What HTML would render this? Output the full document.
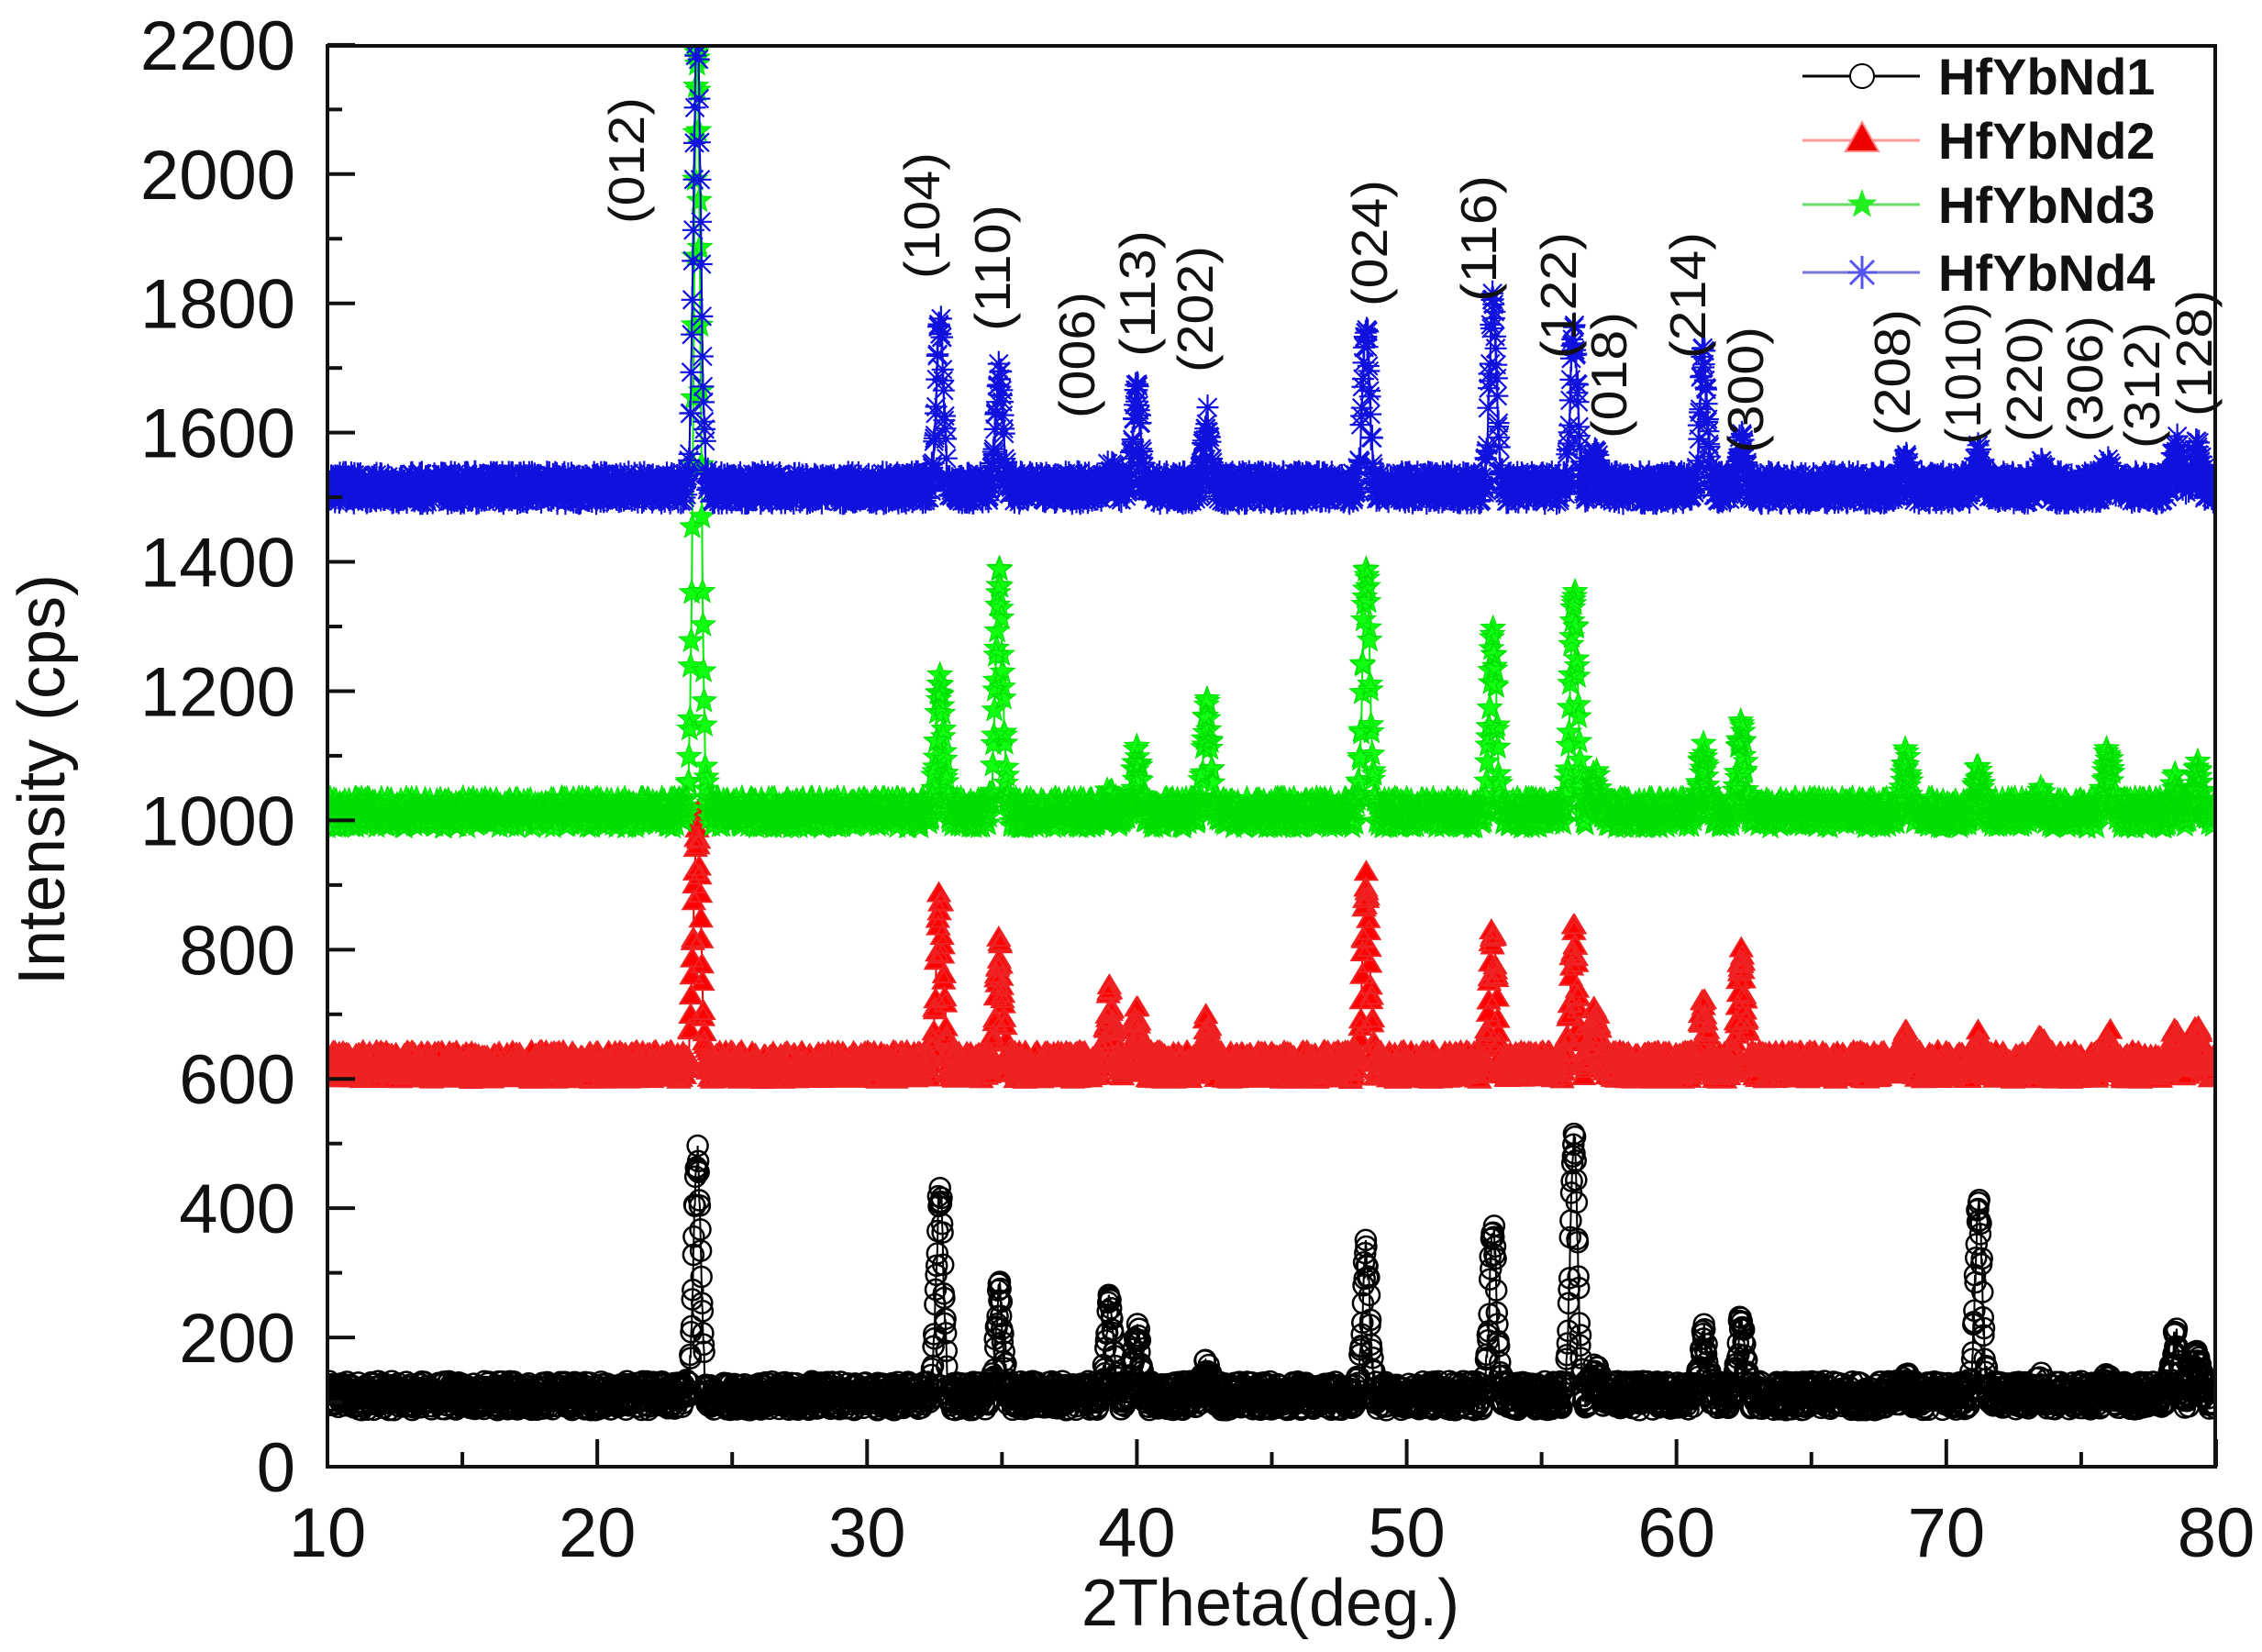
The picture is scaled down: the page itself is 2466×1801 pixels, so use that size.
<!DOCTYPE html>
<html><head><meta charset="utf-8"><style>
html,body{margin:0;padding:0;background:#fff;}
svg{display:block;}
text{font-family:"Liberation Sans",sans-serif;}
</style></head><body>
<svg id="s" width="2466" height="1801" viewBox="0 0 2466 1801" xmlns="http://www.w3.org/2000/svg">
<defs><clipPath id="c"><rect x="357" y="50" width="2058" height="1549"/></clipPath></defs>
<g id="data" clip-path="url(#c)"></g>
<rect x="357" y="50" width="2058" height="1549" fill="none" stroke="#111" stroke-width="4"/>
<g id="ticks" stroke="#111" stroke-width="4"></g>
<g id="labels" font-size="76" fill="#111"></g>
<text x="70" y="850" font-size="72" fill="#111" text-anchor="middle" transform="rotate(-90 70 850)">Intensity (cps)</text>
<text x="1385" y="1772" font-size="72" fill="#111" text-anchor="middle">2Theta(deg.)</text>
<g id="hkl" font-size="55" fill="#111"></g>
<g id="legend"></g>
</svg>
<script>
var NS="http://www.w3.org/2000/svg";
function X(t){return 357+(t-10)*29.414;}
function Y(v){return 1599-v*0.7046;}
function el(tag,attrs,parent,txt){var e=document.createElementNS(NS,tag);for(var k in attrs)e.setAttribute(k,attrs[k]);if(txt!==undefined)e.textContent=txt;parent.appendChild(e);return e;}
var ticks=document.getElementById('ticks'),labels=document.getElementById('labels');
for(var t=10;t<=80;t+=5){var maj=(t%10==0);el('line',{x1:X(t),x2:X(t),y1:1599,y2:1599-(maj?30:16)},ticks);if(maj)el('text',{x:X(t),y:1697,'text-anchor':'middle'},labels,t);}
for(var v=0;v<=2200;v+=100){var maj=(v%200==0);el('line',{x1:357,x2:357+(maj?30:16),y1:Y(v),y2:Y(v)},ticks);if(maj)el('text',{x:322,y:Y(v)+27,'text-anchor':'end'},labels,v);}
var seed=12345;function rnd(){seed=(seed*1103515245+12345)%2147483648;return seed/2147483648;}
var pos=[23.7,32.7,34.9,39.0,40.0,42.6,48.5,53.2,56.2,57.0,61.0,62.4,68.5,71.2,73.5,76.0,78.5,79.3];
var S=[
 {base:110,col:'#000',h:[480,430,270,250,210,150,335,370,510,140,200,225,130,410,125,125,195,175],m:'circle'},
 {base:620,col:'#e00',h:[1000,880,800,730,690,680,900,830,820,700,710,790,660,665,650,660,660,665],m:'tri'},
 {base:1012,col:'#0e0',h:[2180,1210,1370,1030,1100,1170,1390,1280,1350,1060,1100,1140,1090,1070,1030,1100,1050,1070],m:'star'},
 {base:1515,col:'#00c',h:[2250,1770,1690,1540,1660,1620,1760,1800,1760,1560,1720,1580,1550,1560,1540,1550,1580,1570],m:'ast'}
];
var data=document.getElementById('data');
S.forEach(function(s){
 var pts=[],d='';
 for(var t=10;t<=80.001;t+=0.02){
  var v=s.base+(rnd()-0.5)*45;
  for(var i=0;i<pos.length;i++){var A=s.h[i]-s.base;var z=(t-pos[i])/0.13;v+=A*Math.exp(-z*z/2);}
  var x=X(t),y=Y(v);pts.push(x.toFixed(1)+','+y.toFixed(1));
  var r=11;
  if(s.m=='circle'){d+='M'+(x-r).toFixed(1)+' '+y.toFixed(1)+'a'+r+' '+r+' 0 1 0 '+2*r+' 0a'+r+' '+r+' 0 1 0 '+(-2*r)+' 0';}
  else if(s.m=='tri'){d+='M'+x.toFixed(1)+' '+(y-12).toFixed(1)+'l12 20h-24z';}
  else if(s.m=='star'){var q='';for(var k=0;k<10;k++){var a=-Math.PI/2+k*Math.PI/5,rr=(k%2?6:14);q+=(k?'L':'M')+(x+rr*Math.cos(a)).toFixed(1)+' '+(y+rr*Math.sin(a)).toFixed(1);}d+=q+'Z';}
  else{d+='M'+(x-12)+' '+y.toFixed(1)+'h24M'+x.toFixed(1)+' '+(y-14).toFixed(1)+'v28M'+(x-10).toFixed(1)+' '+(y-10).toFixed(1)+'l20 20M'+(x+10).toFixed(1)+' '+(y-10).toFixed(1)+'l-20 20';}
 }
 s.pts=pts;s.d=d;
});
S.forEach(function(s){
 el('polyline',{points:s.pts.join(' '),fill:'none',stroke:s.col,'stroke-width':2},data);
 if(s.m=='circle')el('path',{d:s.d,fill:'none',stroke:'#000','stroke-width':2.5},data);
 else if(s.m=='tri')el('path',{d:s.d,fill:'#f00',stroke:'#e22','stroke-width':2},data);
 else if(s.m=='star')el('path',{d:s.d,fill:'#1f1',stroke:'#0d0','stroke-width':1},data);
 else el('path',{d:s.d,fill:'none',stroke:'#11d','stroke-width':2.2},data);
});
var H=[['(012)',683,175],['(104)',1005,235],['(110)',1082,292],['(006)',1174,387],['(113)',1240,320],['(202)',1303,337],['(024)',1493,265],['(116)',1612,260],['(122)',1699,322],['(018)',1754,409],['(214)',1840,322],['(300)',1903,425],['(208)',2063,406],['(1010)',2140,407],['(220)',2207,413],['(306)',2273,413],['(312)',2335,420],['(128)',2392,385]];
var hkl=document.getElementById('hkl');
H.forEach(function(h){var L=h[0].length>5?155:138;el('text',{x:h[1]+19,y:h[2],'text-anchor':'middle',transform:'rotate(-90 '+(h[1]+19)+' '+h[2]+')',textLength:L,lengthAdjust:'spacingAndGlyphs'},hkl,h[0]);});
var lg=document.getElementById('legend');
var names=['HfYbNd1','HfYbNd2','HfYbNd3','HfYbNd4'],ly=[83,153,223,297],lc=['#000','#f99','#6d6','#77d'];
for(var i=0;i<4;i++){
 var y=ly[i];el('line',{x1:1965,x2:2093,y1:y,y2:y,stroke:lc[i],'stroke-width':3},lg);
 if(i==0)el('circle',{cx:2030,cy:y,r:13,fill:'#fff',stroke:'#000','stroke-width':2},lg);
 if(i==1)el('path',{d:'M2030 '+(y-20)+'l18 32h-36z',fill:'#e00',stroke:'#f88','stroke-width':2},lg);
 if(i==2){var q='';for(var k=0;k<10;k++){var a=-Math.PI/2+k*Math.PI/5,rr=(k%2?7:17);q+=(k?'L':'M')+(2030+rr*Math.cos(a)).toFixed(1)+' '+(y+rr*Math.sin(a)).toFixed(1);}el('path',{d:q+'Z',fill:'#2e2'},lg);}
 if(i==3)el('path',{d:'M2014 '+y+'h32M2030 '+(y-18)+'v36M2017 '+(y-13)+'l26 26M2043 '+(y-13)+'l-26 26',stroke:'#55e','stroke-width':3,fill:'none'},lg);
 el('text',{x:2113,y:y+20,'font-size':56,'font-weight':'bold',fill:'#111'},lg,names[i]);
}
</script>
</body></html>
